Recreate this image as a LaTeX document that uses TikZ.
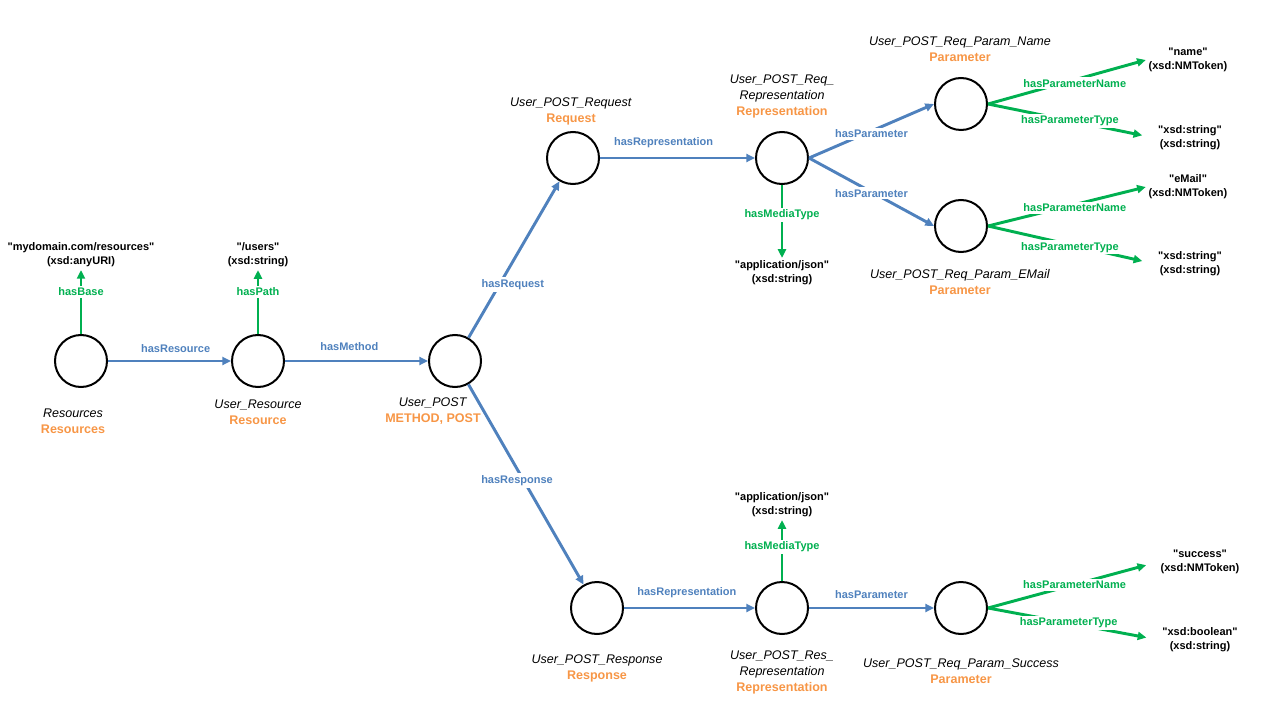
\documentclass[tikz,border=0pt]{standalone}
\usepackage{fontspec}
\setmainfont{Liberation Sans}[Ligatures=TeXOff]
\usetikzlibrary{arrows.meta}
\definecolor{relblue}{RGB}{79,129,189}
\definecolor{relgreen}{RGB}{0,176,80}
\definecolor{clsorange}{RGB}{247,150,70}
\begin{document}
\begin{tikzpicture}[x=0.75pt,y=-0.75pt,>={Triangle[length=6.5pt,width=6pt]},
  circ/.style={circle,draw,line width=1.5pt,minimum size=39pt,inner sep=0pt},
  objprop/.style={->,draw=relblue,line width=2.2pt},
  dataprop/.style={->,draw=relgreen,line width=2.2pt},
  objlbl/.style={text=relblue,font=\fontsize{8.25}{10}\selectfont\bfseries},
  datalbl/.style={text=relgreen,fill=white,inner sep=1.5pt,font=\fontsize{8.25}{10}\selectfont\bfseries},
  rname/.style={align=center,font=\fontsize{9.4}{12}\selectfont},
  rlit/.style={align=center,inner sep=2pt,font=\fontsize{8.25}{10.5}\selectfont\bfseries}]
  \useasboundingbox (0,0) rectangle (1280,720);

  % resources
  \node[circ] (rsrc) at (81,361) {};
  \node[circ] (ursrc) at (258,361) {};
  \node[circ] (upost) at (455,361) {};
  \node[circ] (req) at (573,158) {};
  \node[circ] (reqrep) at (782,158) {};
  \node[circ] (pname) at (961,104) {};
  \node[circ] (pmail) at (961,226) {};
  \node[circ] (resp) at (597,608) {};
  \node[circ] (resrep) at (782,608) {};
  \node[circ] (psucc) at (961,608) {};

  % names and classes
  \node[rname] (nrsrc) at (73,421) {\textit{Resources}\\\textcolor{clsorange}{\bfseries Resources}};
  \node[rname] (nursrc) at (258,412) {\textit{User\_Resource}\\\textcolor{clsorange}{\bfseries Resource}};
  \node[rname] (nupost) at (433,411) {\textit{User\_POST}\\\textcolor{clsorange}{\bfseries METHOD, POST}};
  \node[rname] (nreq) at (571,111) {\textit{User\_POST\_Request}\\\textcolor{clsorange}{\bfseries Request}};
  \node[rname] (nreqrep) at (782,96) {\textit{User\_POST\_Req\_}\\\textit{Representation}\\\textcolor{clsorange}{\bfseries Representation}};
  \node[rname] (npname) at (960,49) {\textit{User\_POST\_Req\_Param\_Name}\\\textcolor{clsorange}{\bfseries Parameter}};
  \node[rname] (npmail) at (960,282) {\textit{User\_POST\_Req\_Param\_EMail}\\\textcolor{clsorange}{\bfseries Parameter}};
  \node[rname] (nresp) at (597,668) {\textit{User\_POST\_Response}\\\textcolor{clsorange}{\bfseries Response}};
  \node[rname] (nresrep) at (782,672) {\textit{User\_POST\_Res\_}\\\textit{Representation}\\\textcolor{clsorange}{\bfseries Representation}};
  \node[rname] (npsucc) at (961,671) {\textit{User\_POST\_Req\_Param\_Success}\\\textcolor{clsorange}{\bfseries Parameter}};

  % literals
  \node[rlit] (lbase) at (81,255) {"mydomain.com/resources"\\(xsd:anyURI)};
  \node[rlit] (lpath) at (258,255) {"/users"\\(xsd:string)};
  \node[rlit] (lmt1) at (782,273) {"application/json"\\(xsd:string)};
  \node[rlit] (lname) at (1188,60) {"name"\\(xsd:NMToken)};
  \node[rlit] (ltype1) at (1190,138) {"xsd:string"\\(xsd:string)};
  \node[rlit] (lmail) at (1188,187) {"eMail"\\(xsd:NMToken)};
  \node[rlit] (ltype2) at (1190,264) {"xsd:string"\\(xsd:string)};
  \node[rlit] (lmt2) at (782,505) {"application/json"\\(xsd:string)};
  \node[rlit] (lsucc) at (1200,562) {"success"\\(xsd:NMToken)};
  \node[rlit] (ltype3) at (1200,640) {"xsd:boolean"\\(xsd:string)};

  % object properties
  \draw[objprop] (rsrc) -- node[objlbl,pos=.55,above=2pt] {hasResource} (ursrc);
  \draw[objprop] (ursrc) -- node[objlbl,pos=.45,above=3pt] {hasMethod} (upost);
  \draw[objprop] (upost) -- node[objlbl,fill=white,inner sep=1.5pt,pos=.34,xshift=10pt] {hasRequest} (req);
  \draw[objprop] (upost) -- node[objlbl,fill=white,inner sep=1.5pt,pos=.48,xshift=-5pt] {hasResponse} (resp);
  \draw[objprop] (req) -- node[objlbl,pos=.41,above=3.5pt] {hasRepresentation} (reqrep);
  \draw[objprop] (resp) -- node[objlbl,pos=.48,above=3pt] {hasRepresentation} (resrep);
  \draw[objprop] (reqrep.east) -- node[objlbl,fill=white,inner sep=1.5pt,pos=.5,yshift=-2pt] {hasParameter} (pname.west);
  \draw[objprop] (reqrep.east) -- node[objlbl,fill=white,inner sep=1.5pt,pos=.5,yshift=-1pt] {hasParameter} (pmail.west);
  \draw[objprop] (resrep) -- node[objlbl,pos=.5,above=2.5pt] {hasParameter} (psucc);

  % datatype properties
  \draw[dataprop] (rsrc) -- node[datalbl,pos=.66] {hasBase} (lbase);
  \draw[dataprop] (ursrc) -- node[datalbl,pos=.66] {hasPath} (lpath);
  \draw[dataprop] (reqrep) -- node[datalbl,pos=.41] {hasMediaType} (lmt1);
  \draw[dataprop] (resrep) -- node[datalbl,pos=.56] {hasMediaType} (lmt2);
  \draw[dataprop] (pname.east) -- node[datalbl,pos=.55,yshift=-2.5pt] {hasParameterName} (lname.west);
  \draw[dataprop,shorten >=10pt] (pname.east) -- node[datalbl,pos=.49] {hasParameterType} (ltype1.west);
  \draw[dataprop] (pmail.east) -- node[datalbl,pos=.55,yshift=-2.5pt] {hasParameterName} (lmail.west);
  \draw[dataprop,shorten >=10pt] (pmail.east) -- node[datalbl,pos=.49,yshift=-2pt] {hasParameterType} (ltype2.west);
  \draw[dataprop,shorten >=9pt] (psucc.east) -- node[datalbl,pos=.51] {hasParameterName} (lsucc.west);
  \draw[dataprop,shorten >=10pt] (psucc.east) -- node[datalbl,pos=.47] {hasParameterType} (ltype3.west);
\end{tikzpicture}
\end{document}
